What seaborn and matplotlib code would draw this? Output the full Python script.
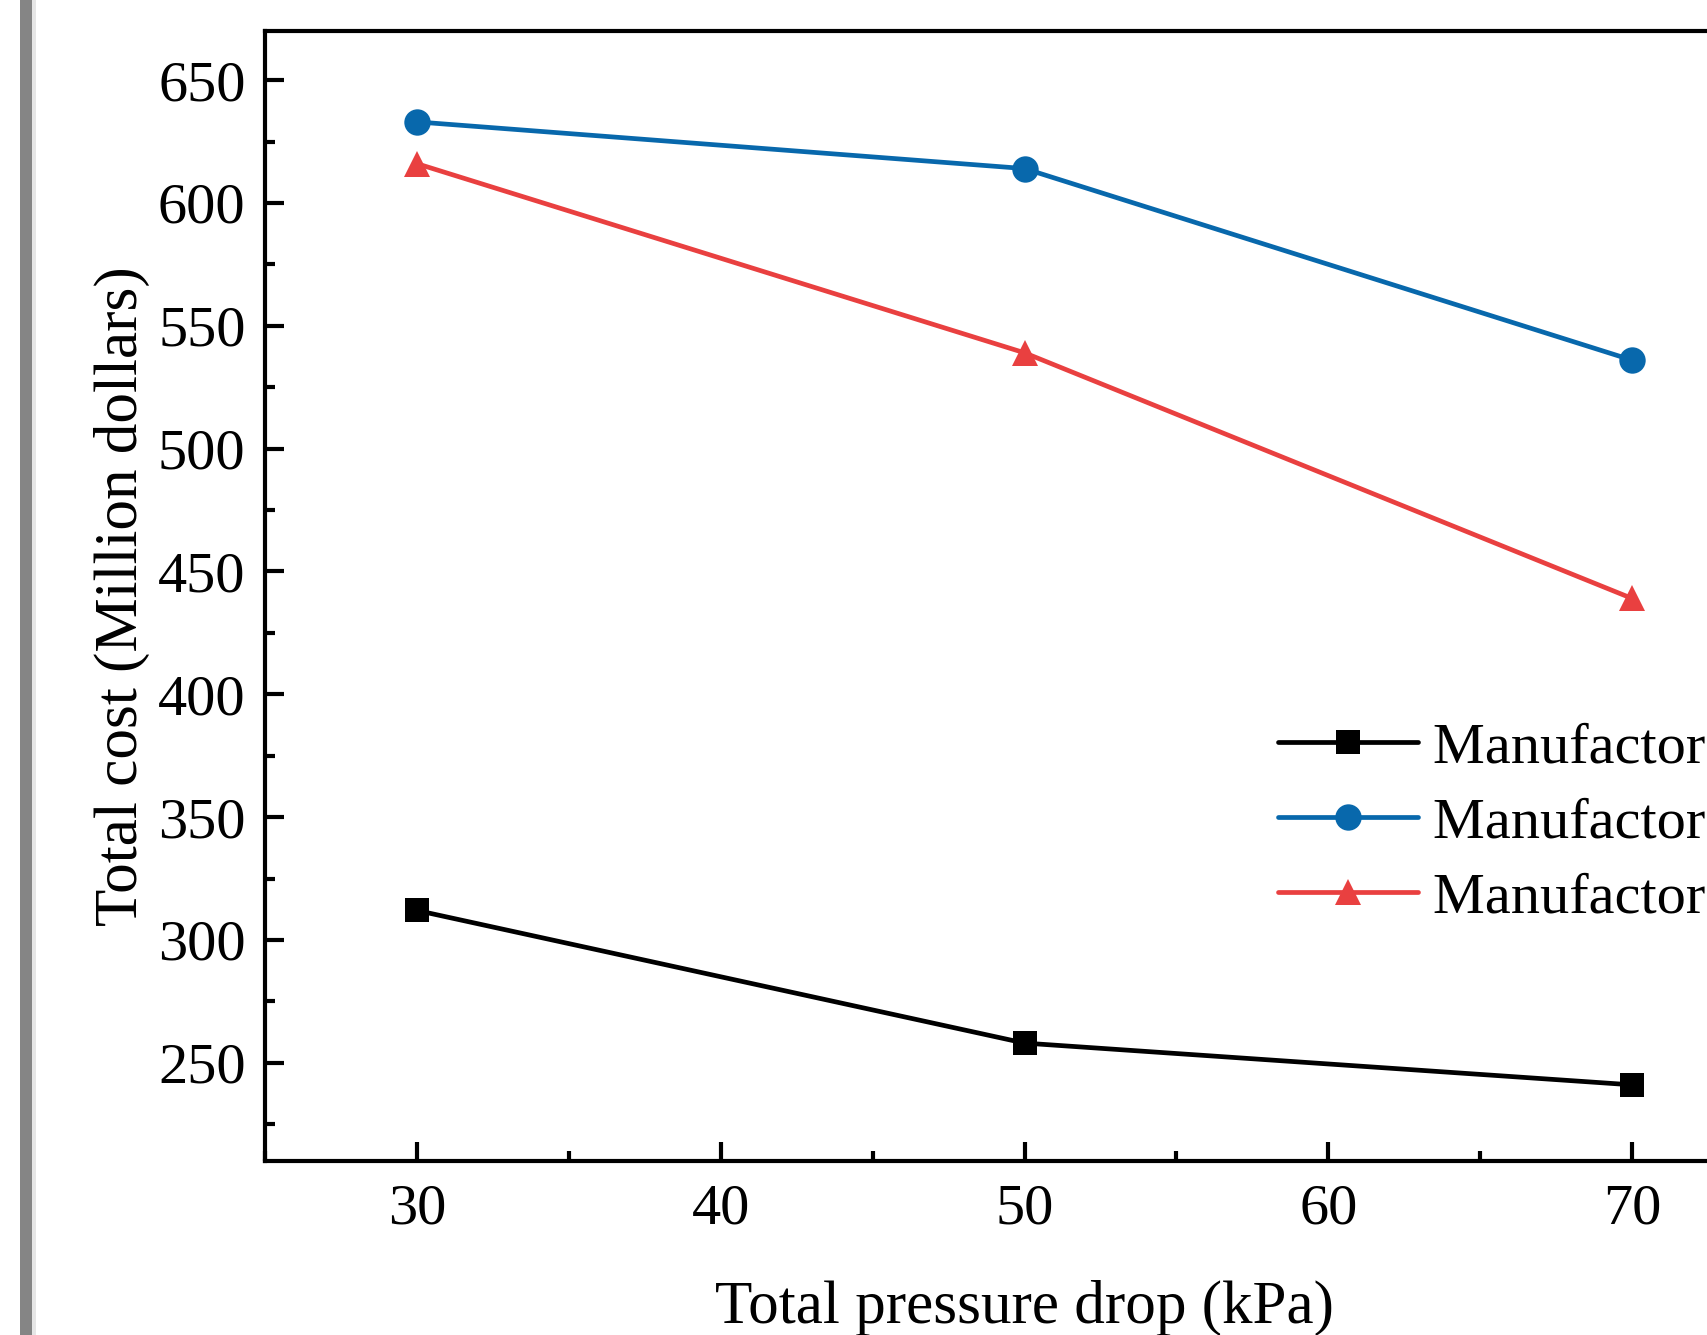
import pandas as pd
import numpy as np
import matplotlib.pyplot as plt
from matplotlib.patches import Rectangle
from matplotlib.ticker import MultipleLocator
import seaborn as sns

sns.set_style('ticks')
plt.rcParams['font.family'] = ['Liberation Serif', 'DejaVu Serif']
plt.rcParams['text.color'] = 'black'
plt.rcParams['axes.labelcolor'] = 'black'
plt.rcParams['xtick.color'] = 'black'
plt.rcParams['ytick.color'] = 'black'

pressure_drop = [30, 50, 70]
cost_a = [312, 258, 241]
cost_b = [633, 614, 536]
cost_c = [616, 539, 439]
labels = ['Manufactor A', 'Manufactor B', 'Manufactor C']
colors = ['#000000', '#0868ac', '#e94040']
markers = ['s', 'o', '^']
sizes = [17, 19, 19]

fig = plt.figure(figsize=(17.08, 13.35), dpi=100)
ax = fig.add_axes([265 / 1708, 1 - 1161 / 1335, (1784 - 265) / 1708, (1161 - 31) / 1335])

for vals, lab, col, mk, ms in zip([cost_a, cost_b, cost_c], labels, colors, markers, sizes):
    df = pd.DataFrame({'x': pressure_drop, 'y': vals})
    sns.lineplot(data=df, x='x', y='y', ax=ax, color=col, marker=mk, markersize=ms,
                 markeredgewidth=0, linewidth=3.4, label=lab)

ax.set_xlim(25, 75)
ax.set_ylim(210, 670)
ax.xaxis.set_major_locator(MultipleLocator(10))
ax.xaxis.set_minor_locator(MultipleLocator(5))
ax.yaxis.set_major_locator(MultipleLocator(50))
ax.yaxis.set_minor_locator(MultipleLocator(25))
ax.tick_params(which='both', direction='in', width=3, labelsize=42, color='black',
               labelcolor='black')
ax.tick_params(which='major', length=14)
ax.tick_params(which='minor', length=7)
ax.tick_params(axis='x', pad=16)
ax.tick_params(axis='y', pad=14)
for sp in ax.spines.values():
    sp.set_linewidth(3)
    sp.set_color('black')

ax.set_xlabel('Total pressure drop (kPa)', fontsize=44, labelpad=32)
ax.set_ylabel('Total cost (Million dollars)', fontsize=44, labelpad=6)

leg = ax.legend(loc='upper left', bbox_to_anchor=(1278 / 1708, 1 - 722 / 1335),
                bbox_transform=fig.transFigure, frameon=False, fontsize=42,
                borderpad=0, borderaxespad=0, handlelength=2.4, handletextpad=0.25,
                labelspacing=0.38)

# grey bar at the left edge of the screenshot
fig.add_artist(Rectangle((20 / 1708, 0), 12 / 1708, 1, transform=fig.transFigure,
                         color='#858585', linewidth=0))
fig.add_artist(Rectangle((32 / 1708, 0), 4 / 1708, 1, transform=fig.transFigure,
                         color='#e6e6e6', linewidth=0))

plt.savefig('out.png', dpi=100)
